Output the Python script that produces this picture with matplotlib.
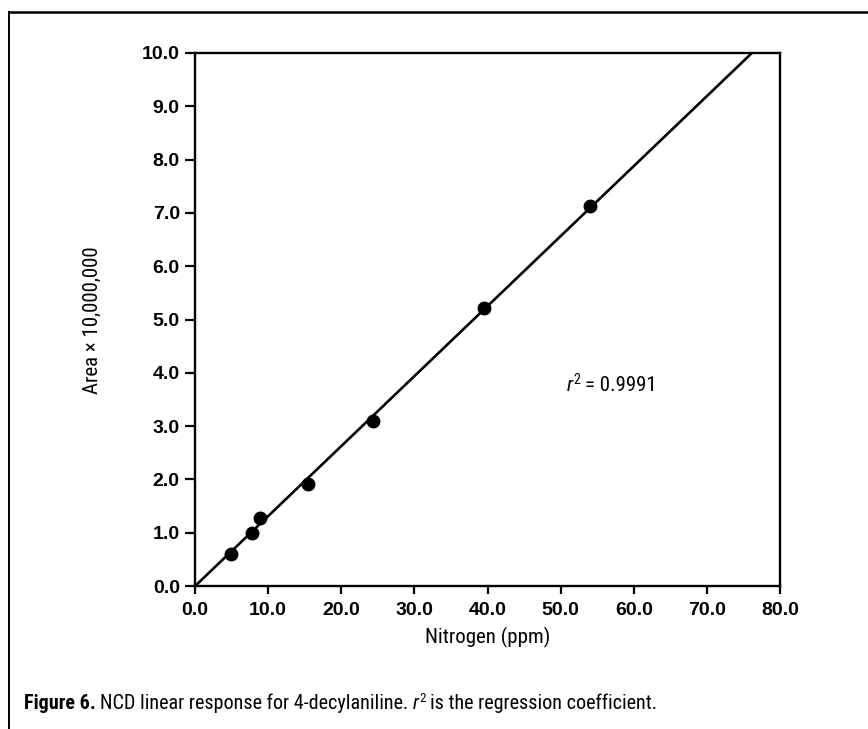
import matplotlib
matplotlib.use("Agg")
import matplotlib.pyplot as plt
from matplotlib import font_manager as fm
from matplotlib.lines import Line2D
import numpy as np

# data
nitrogen_ppm = [4.9, 7.8, 8.9, 15.4, 24.3, 39.5, 54.0]
area_1e7 = [0.61, 0.99, 1.28, 1.91, 3.10, 5.22, 7.13]
x_ticks = [0, 10, 20, 30, 40, 50, 60, 70, 80]
y_ticks = [0, 1, 2, 3, 4, 5, 6, 7, 8, 9, 10]
r2_value = "0.9991"


def font_file(*names):
    # pick an installed font file by file-name stem, first hit wins
    for n in names:
        for f in fm.fontManager.ttflist:
            if f.fname.split("/")[-1].split(".")[0] == n:
                return fm.FontProperties(fname=f.fname)
    return fm.FontProperties(family="DejaVu Sans")


def fp(base, size):
    p = base.copy()
    p.set_size(size)
    return p


NARROW = font_file("LiberationSansNarrow-Regular", "RobotoCondensed-Regular",
                   "Roboto-Regular", "LiberationSans-Regular")
NARROW_B = font_file("LiberationSansNarrow-Bold", "RobotoCondensed-Bold",
                     "Roboto-Bold", "LiberationSans-Bold")
NARROW_I = font_file("LiberationSansNarrow-Italic", "RobotoCondensed-Italic",
                     "Roboto-Italic", "LiberationSans-Italic")
TICK_B = font_file("LiberationSans-Bold", "Arimo-Bold", "DejaVuSans-Bold")

fig = plt.figure(figsize=(8.68, 7.29), dpi=100)
ax = fig.add_axes([0.2247, 0.196, 0.674, 0.7313])

x = np.array(nitrogen_ppm)
y = np.array(area_1e7)
slope = (x * y).sum() / (x * x).sum()  # regression through origin
xl = np.array([0, 80])
ax.plot(xl, slope * xl, color="black", lw=1.9, solid_capstyle="butt")
ax.plot(x, y, "o", color="black", ms=9, zorder=3)

ax.set_xlim(0, 80)
ax.set_ylim(0, 10)
ax.set_xticks(x_ticks)
ax.set_yticks(y_ticks)
ax.set_xticklabels([f"{v:.1f}" for v in x_ticks])
ax.set_yticklabels([f"{v:.1f}" for v in y_ticks])
for lab in ax.get_xticklabels() + ax.get_yticklabels():
    lab.set_fontproperties(fp(TICK_B, 14))
ax.tick_params(direction="out", width=1.6, color="black")
ax.tick_params(axis="y", length=7, pad=4)
ax.tick_params(axis="x", length=6, pad=5.5)
for s in ax.spines.values():
    s.set_linewidth(1.7)

ax.set_xlabel("Nitrogen (ppm)", fontproperties=fp(NARROW, 15))
ax.set_ylabel("Area × 10,000,000", fontproperties=fp(NARROW, 15))
ax.xaxis.label.set_va("center")
ax.yaxis.label.set_va("center")
ax.xaxis.set_label_coords(0.5, -0.096)
ax.yaxis.set_label_coords(-0.176, 0.498)

fig.canvas.draw()
renderer = fig.canvas.get_renderer()
W, H = fig.bbox.width, fig.bbox.height


def draw_runs(x0, y0, runs):
    # runs: (text, fontprops, raise_px, gap_px_before); x0, y0 in pixels
    cur = x0
    for txt, prop, dy, gap in runs:
        cur += gap
        t = fig.text(cur / W, (y0 + dy) / H, txt, fontproperties=prop,
                     va="baseline", ha="left")
        cur = t.get_window_extent(renderer).x1


# r^2 annotation inside the plot, placed in data coordinates
px, py = ax.transData.transform((50.8, 3.66))
draw_runs(px, py, [
    ("r", fp(NARROW_I, 15), 0, 0),
    ("2", fp(NARROW, 10), 7, 0.5),
    ("= " + r2_value, fp(NARROW, 15), 0, 5),
])

# caption
cap_y = H - 709
draw_runs(24, cap_y, [
    ("Figure 6.", fp(NARROW_B, 14.5), 0, 0),
    ("NCD linear response for 4-decylaniline.", fp(NARROW, 14.5), 0, 4.5),
    ("r", fp(NARROW_I, 14.5), 0, 4.5),
    ("2", fp(NARROW, 9.5), 7, 0.5),
    ("is the regression coefficient.", fp(NARROW, 14.5), 0, 4.5),
])

# outer frame (top and left only)
fig.add_artist(Line2D([9 / W, 1], [1 - 12 / H, 1 - 12 / H], color="black", lw=1.8))
fig.add_artist(Line2D([9 / W, 9 / W], [0, 1 - 12 / H], color="black", lw=1.4))

fig.savefig("out.png", dpi=100)
